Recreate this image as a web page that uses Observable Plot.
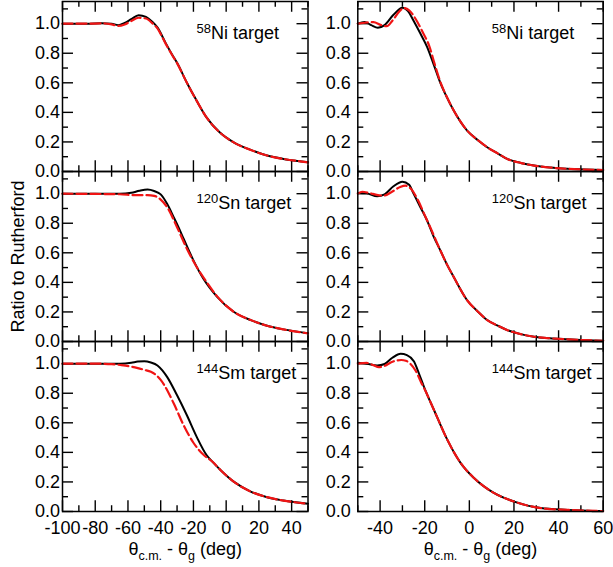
<!DOCTYPE html>
<html><head><meta charset="utf-8">
<script src="https://cdn.jsdelivr.net/npm/d3@7"></script>
<script src="https://cdn.jsdelivr.net/npm/@observablehq/plot@0.6"></script>
<style>
body{margin:0;background:#fff}
#chart{display:flex;width:613px;height:567px;overflow:hidden}
</style></head><body><div id="chart"></div>
<script>
// ---------- categories & tick labels ----------
const targets = ["58Ni", "120Sn", "144Sm"];
const massNumbers = ["58", "120", "144"];
const elements = ["Ni", "Sn", "Sm"];
const yTicks = [0, 0.2, 0.4, 0.6, 0.8, 1.0];
const yMinor = [0.1, 0.3, 0.5, 0.7, 0.9, 1.1];
const xTicksLeft = [-100, -80, -60, -40, -20, 0, 20, 40];
const xMinorLeft = [-90, -70, -50, -30, -10, 10, 30, 50];
const xTicksRight = [-40, -20, 0, 20, 40, 60];
const xMinorRight = [-50, -30, -10, 10, 30, 50];
const yLabel = "Ratio to Rutherford";
const xTitleParts = ["θ", "c.m.", " - θ", "g", " (deg)"];
const xTitle = xTitleParts.join("");

// ---------- series values [x, ratio] ----------
const niLeftSolid = [[-100,1.0],[-85,1.0],[-76,1.003],[-70,1.0],[-66,0.99],[-62,1.005],[-58,1.03],[-53.5,1.057],[-49,1.046],[-45,1.012],[-42,0.975],[-37,0.87],[-33,0.79],[-30,0.735],[-24,0.60],[-18,0.478],[-12,0.366],[-4,0.265],[4.6,0.197],[15,0.146],[25,0.108],[35,0.085],[45,0.069],[50,0.062]];
const niLeftDashed = [[-100,1.0],[-85,1.0],[-76,1.002],[-70,0.995],[-66,0.985],[-62,0.995],[-58,1.018],[-53.5,1.04],[-49,1.035],[-45,1.002],[-42,0.968],[-37,0.865],[-33,0.788],[-30,0.733],[-24,0.60],[-18,0.478],[-12,0.366],[-4,0.265],[4.6,0.197],[15,0.146],[25,0.108],[35,0.085],[45,0.069],[50,0.062]];
const snLeftSolid = [[-100,1.0],[-80,1.0],[-65,1.0],[-58,1.006],[-53,1.02],[-48,1.028],[-44,1.018],[-40,0.995],[-36,0.93],[-32,0.84],[-29,0.77],[-26,0.695],[-20,0.549],[-14,0.426],[-5.5,0.302],[4.6,0.201],[15,0.145],[25,0.107],[35,0.082],[50,0.055]];
const snLeftDashed = [[-100,1.0],[-80,0.998],[-65,0.996],[-55,0.99],[-48,0.99],[-44,0.985],[-40,0.96],[-36,0.908],[-30,0.773],[-24,0.627],[-18,0.504],[-12,0.403],[-5.5,0.305],[4.6,0.201],[15,0.145],[25,0.107],[35,0.082],[50,0.055]];
const smLeftSolid = [[-100,1.0],[-80,1.0],[-65,1.0],[-58,1.006],[-54,1.014],[-50,1.017],[-46,1.008],[-42,0.988],[-39,0.955],[-36,0.909],[-30,0.786],[-24,0.651],[-18,0.505],[-12,0.382],[-8,0.332],[-3.5,0.281],[4.6,0.202],[15,0.135],[25,0.097],[35,0.074],[50,0.052]];
const smLeftDashed = [[-100,1.0],[-80,1.0],[-70,0.997],[-64,0.99],[-58.5,0.981],[-54,0.97],[-50,0.958],[-46,0.945],[-43,0.925],[-40,0.89],[-38,0.858],[-32,0.73],[-26,0.584],[-20,0.465],[-14,0.385],[-8,0.333],[-3.5,0.281],[4.6,0.202],[15,0.135],[25,0.097],[35,0.074],[50,0.052]];

const niRightSolid = [[-50,1.0],[-47,1.012],[-44,0.99],[-41,0.972],[-38,0.99],[-34,1.06],[-30,1.108],[-27.5,1.085],[-25,1.02],[-22,0.935],[-19,0.845],[-16,0.725],[-13,0.6],[-10,0.5],[-7,0.412],[-1,0.276],[4,0.21],[8,0.164],[13,0.12],[17,0.085],[23,0.058],[29,0.04],[36,0.027],[44,0.018],[52,0.013],[60,0.01]];
const niRightDashed = [[-50,1.0],[-46,1.008],[-43,1.01],[-39.5,0.99],[-37,0.983],[-34.5,1.02],[-31.5,1.08],[-29.3,1.106],[-27,1.09],[-24,1.03],[-21,0.945],[-18,0.85],[-15.5,0.725],[-13,0.606],[-10,0.502],[-7,0.413],[-1,0.277],[4,0.21],[8,0.164],[13,0.12],[17,0.085],[23,0.058],[29,0.04],[36,0.027],[44,0.018],[52,0.013],[60,0.01]];
const snRightSolid = [[-50,1.005],[-46,1.002],[-41.3,0.982],[-38,0.995],[-34,1.05],[-30,1.081],[-27,1.06],[-25,1.0],[-22,0.91],[-19,0.82],[-16,0.71],[-13,0.616],[-10,0.52],[-7,0.436],[-1,0.279],[4,0.2],[8,0.145],[13,0.105],[17,0.077],[23,0.05],[29,0.032],[36,0.022],[44,0.015],[52,0.009],[60,0.005]];
const snRightDashed = [[-50,1.0],[-48,1.013],[-45,1.005],[-41,0.99],[-38.3,0.987],[-35,1.01],[-31,1.045],[-28.6,1.054],[-26,1.03],[-23,0.955],[-20,0.855],[-17,0.755],[-14,0.65],[-10,0.52],[-7,0.436],[-1,0.279],[4,0.2],[8,0.145],[13,0.105],[17,0.077],[23,0.05],[29,0.032],[36,0.022],[44,0.015],[52,0.009],[60,0.005]];
const smRightSolid = [[-50,1.006],[-46,1.0],[-41.3,0.988],[-38,0.998],[-34.5,1.04],[-30.8,1.067],[-28,1.058],[-24.8,1.015],[-22.5,0.93],[-20.3,0.842],[-15.8,0.685],[-9.8,0.483],[-3.8,0.326],[2.2,0.225],[11.2,0.124],[20.1,0.067],[32,0.023],[44,0.011],[60,0.003]];
const smRightDashed = [[-50,1.0],[-46,1.005],[-43,0.99],[-40.6,0.977],[-38,0.985],[-35,1.01],[-33,1.02],[-30.5,1.025],[-28.5,1.02],[-26.5,1.0],[-24,0.95],[-21.5,0.87],[-20.3,0.835],[-15.8,0.685],[-9.8,0.483],[-3.8,0.326],[2.2,0.225],[11.2,0.124],[20.1,0.067],[32,0.023],[44,0.011],[60,0.003]];

// ---------- build ----------
const H = 567, MT = 1, MB = 55.3;
const FONT = '"Liberation Sans", Arial, Helvetica, sans-serif';

function rows(list) {
  const out = [];
  list.forEach((s, i) => s.forEach(([x, y]) => out.push({t: targets[i], x, y})));
  return out;
}

function column({width, marginLeft, marginRight, xDomain, xMajor, xMinor, yPad, solid, dashed, withYLabel}) {
  const fh = (H - MT - MB) / 3;
  const pw = width - marginLeft - marginRight;
  const tk = {stroke: "black", strokeWidth: 1.4};
  const labels = targets.map((t, i) => ({t, mass: massNumbers[i], el: elements[i]}));
  const marks = [
    Plot.tickX(xMajor, {x: d => d, insetTop: fh - 11, ...tk}),
    Plot.tickX(xMajor, {x: d => d, insetBottom: fh - 11, ...tk}),
    Plot.tickX(xMinor, {x: d => d, insetTop: fh - 6, ...tk}),
    Plot.tickX(xMinor, {x: d => d, insetBottom: fh - 6, ...tk}),
    Plot.tickY(yTicks, {y: d => d, insetRight: pw - 11, ...tk}),
    Plot.tickY(yTicks, {y: d => d, insetLeft: pw - 11, ...tk}),
    Plot.tickY(yMinor, {y: d => d, insetRight: pw - 6, ...tk}),
    Plot.tickY(yMinor, {y: d => d, insetLeft: pw - 6, ...tk}),
    Plot.line(rows(solid), {x: "x", y: "y", fy: "t", stroke: "black", strokeWidth: 2, curve: "monotone-x"}),
    Plot.line(rows(dashed), {x: "x", y: "y", fy: "t", stroke: "#f01414", strokeWidth: 2.2, strokeDasharray: "10,4", curve: "monotone-x"}),
    Plot.frame({stroke: "black", strokeWidth: 1.5}),
    Plot.axisY(yTicks, {tickSize: 0, tickPadding: yPad, tickFormat: d3.format(".1f"), fontSize: 18, label: null}),
    Plot.axisX(xMajor, {tickSize: 0, tickPadding: 10, tickFormat: d => String(d), fontSize: 18, label: null}),
    Plot.text(labels, {fy: "t", text: d => d.mass + d.el + " target", frameAnchor: "top-left", dx: 134, dy: 37.7, lineAnchor: "bottom", textAnchor: "start", fontSize: 18}),
    Plot.text([{t: targets[2], s: xTitle}], {fy: "t", text: "s", frameAnchor: "bottom", dy: 43.5, lineAnchor: "bottom", fontSize: 18})
  ];
  if (withYLabel) marks.push(Plot.text([{t: targets[1], s: yLabel}], {fy: "t", text: "s", frameAnchor: "left", dx: -44, rotate: -90, textAnchor: "middle", lineAnchor: "middle", fontSize: 18}));
  const svg = Plot.plot({
    width, height: H, marginLeft, marginRight, marginTop: MT, marginBottom: MB,
    style: {fontFamily: FONT, background: "white", color: "black", overflow: "visible"},
    fy: {domain: targets, padding: 0, axis: null, label: null},
    x: {domain: xDomain, label: null},
    y: {domain: [0, 1.15], label: null},
    marks
  });
  rich(svg);
  return svg;
}

function rich(svg) {
  svg.querySelectorAll("text").forEach(t => {
    const s = t.textContent;
    let parts = null;
    const m = s.match(/^(\d+)([A-Z][a-z] target)$/);
    if (m) parts = [[m[1], 13, -6], [m[2], 18, 6]];
    else if (s === xTitle) parts = xTitleParts.map((p, i) => [p, i % 2 ? 12.5 : 18, i === 0 ? 0 : (i % 2 ? 5 : -5)]);
    if (!parts) return;
    while (t.firstChild) t.removeChild(t.firstChild);
    for (const [str, fs, dy] of parts) {
      const ts = document.createElementNS("http://www.w3.org/2000/svg", "tspan");
      ts.setAttribute("font-size", fs);
      if (dy) ts.setAttribute("dy", dy);
      ts.textContent = str;
      t.appendChild(ts);
    }
  });
}

const chart = document.getElementById("chart");
chart.appendChild(column({
  width: 310, marginLeft: 62, marginRight: 2.5, xDomain: [-100, 50],
  xMajor: xTicksLeft, xMinor: xMinorLeft, yPad: 2.5,
  solid: [niLeftSolid, snLeftSolid, smLeftSolid],
  dashed: [niLeftDashed, snLeftDashed, smLeftDashed], withYLabel: true
}));
chart.appendChild(column({
  width: 303, marginLeft: 47.3, marginRight: 10.3, xDomain: [-50, 60],
  xMajor: xTicksRight, xMinor: xMinorRight, yPad: 7,
  solid: [niRightSolid, snRightSolid, smRightSolid],
  dashed: [niRightDashed, snRightDashed, smRightDashed], withYLabel: false
}));
</script></body></html>
